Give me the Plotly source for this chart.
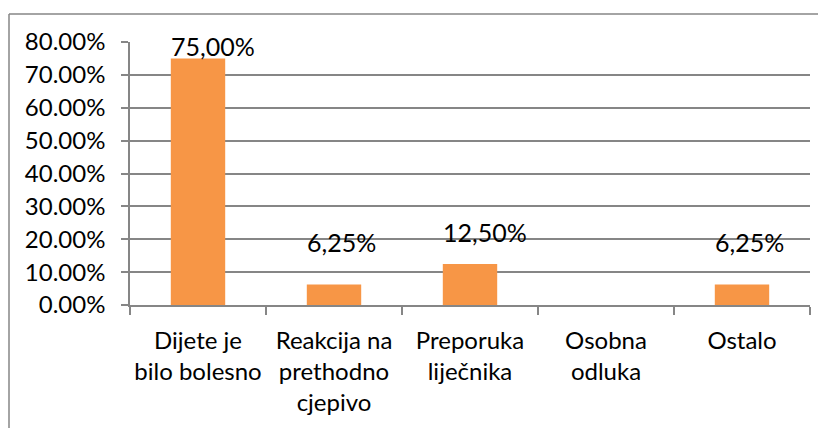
import plotly.graph_objects as go

categories = ["Dijete je<br>bilo bolesno", "Reakcija na<br>prethodno<br>cjepivo",
              "Preporuka<br>liječnika", "Osobna<br>odluka", "Ostalo"]
values = [0.75, 0.0625, 0.125, 0.0, 0.0625]
value_labels = ["75,00%", "6,25%", "12,50%", "", "6,25%"]
label_yshift = [12, 42, 32, 0, 42]
y_ticks = [0, 0.1, 0.2, 0.3, 0.4, 0.5, 0.6, 0.7, 0.8]

FONT = "Lato"
GRID = "#868686"

fig = go.Figure()
fig.add_trace(go.Bar(
    x=categories, y=values,
    marker=dict(color="#F79646", line=dict(width=0)),
    width=0.4,
    hoverinfo="skip",
))

for c, v, t, s in zip(categories, values, value_labels, label_yshift):
    if t:
        fig.add_annotation(x=c, y=v, text=t, showarrow=False,
                           xanchor="left", yanchor="middle",
                           xshift=-29, yshift=s,
                           font=dict(family=FONT, size=25, color="#000000"))

fig.update_layout(
    width=826, height=428,
    margin=dict(l=122, r=24, t=34, b=131),
    paper_bgcolor="white", plot_bgcolor="white",
    showlegend=False,
    font=dict(family=FONT, size=24, color="#000000"),
    bargap=0.6,
)
fig.update_xaxes(
    type="category", automargin=False, tickangle=0,
    showline=True, linecolor=GRID, linewidth=1.5,
    ticks="outside", tickson="boundaries", ticklen=8, tickcolor=GRID, tickwidth=1.5,
    showgrid=False,
    tickfont=dict(family=FONT, size=24, color="#000000"),
    ticklabelstandoff=13,
    range=[-0.5, 4.5],
)
fig.update_yaxes(
    automargin=False,
    range=[0, 0.8], tickvals=y_ticks, tickformat=".2%",
    showline=True, linecolor=GRID, linewidth=1.5,
    ticks="outside", ticklen=7, tickcolor=GRID, tickwidth=1.5,
    showgrid=True, gridcolor=GRID, gridwidth=1.5,
    zeroline=False,
    tickfont=dict(family=FONT, size=24, color="#000000"),
    ticklabelstandoff=11,
)

# outer chart border (top and left visible)
fig.add_shape(type="line", xref="paper", yref="paper", x0=-121/680, x1=1.1, y0=1 + 28/263, y1=1 + 28/263,
              line=dict(color=GRID, width=1.5))
fig.add_shape(type="line", xref="paper", yref="paper", x0=-121/680, x1=-121/680, y0=-0.6, y1=1 + 28/263,
              line=dict(color=GRID, width=1.5))

fig.write_html("out.html")
